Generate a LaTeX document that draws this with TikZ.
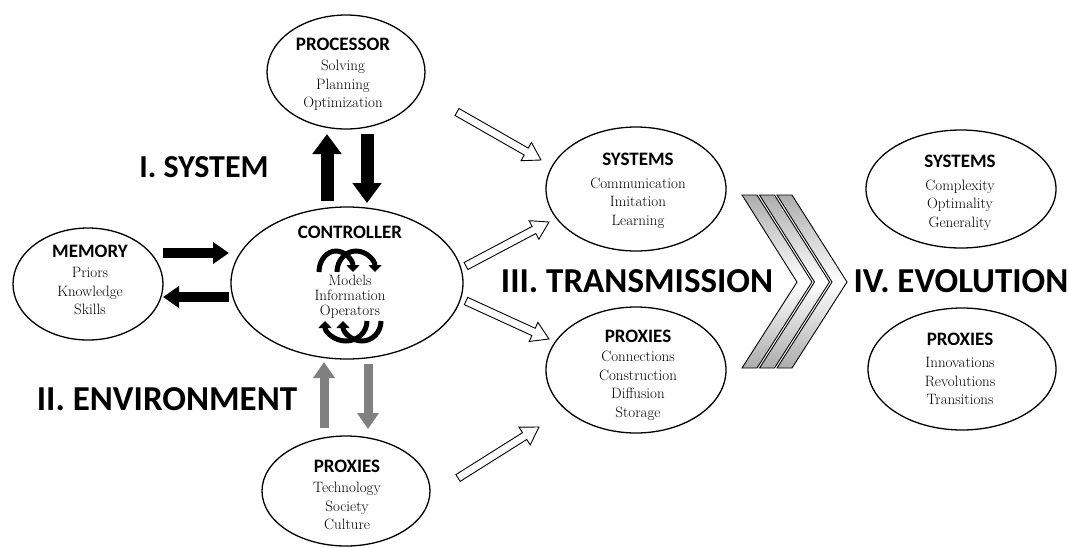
\documentclass[tikz,border=0pt]{standalone}
\usepackage{fontspec}
\newfontfamily\headfont{Carlito}
\usetikzlibrary{arrows.meta,calc,shapes.geometric}
\newcommand{\hdf}{\fontsize{19}{21}\selectfont\headfont\bfseries}
\newcommand{\hollowarr}[2]{%
  \coordinate (hb) at ($(#2)!17pt!(#1)$);
  \draw[hollow] ($(#1)!4pt!90:(#2)$) -- ($(hb)!4pt!-90:(#1)$) -- ($(hb)!10.5pt!-90:(#1)$) -- (#2)
     -- ($(hb)!10.5pt!90:(#1)$) -- ($(hb)!4pt!90:(#1)$) -- ($(#1)!4pt!-90:(#2)$) -- cycle;}
\begin{document}
\begin{tikzpicture}[x=1pt,y=-1pt,
  ell/.style={draw, ellipse, line width=1.3pt, inner sep=0pt},
  blk/.style={align=center, font=\fontsize{15}{18.5}\selectfont, inner sep=0pt},
  big/.style={font=\fontsize{35}{40}\selectfont\headfont\bfseries, anchor=base, inner sep=0pt},
  hollow/.style={draw, fill=white, line width=0.9pt, line join=miter},
  blackarr/.style={line width=13pt, -{Triangle[length=20pt,width=28pt]}},
  memarr/.style={line width=10pt, -{Triangle[length=16pt,width=21pt]}},
  grayarr/.style={draw={rgb,255:red,128;green,128;blue,128}, line width=9pt, -{Triangle[length=16pt,width=21pt]}},
  glyph/.style={line width=5pt, -{Triangle[length=7pt,width=13pt]}},
  chev/.style={top color=gray!65, bottom color=gray!65, middle color=white, draw=black, line width=0.9pt}
]
\useasboundingbox (0,0) rectangle (1069,547);

% ellipses
\node[ell, minimum width=158pt, minimum height=114pt] (proc) at (346,72) {};
\node[ell, minimum width=232pt, minimum height=152pt] (ctrl) at (347,283) {};
\node[ell, minimum width=150pt, minimum height=112pt] (mem) at (88,284) {};
\node[ell, minimum width=168pt, minimum height=110pt] (envp) at (346,491) {};
\node[ell, minimum width=180pt, minimum height=124pt] (sysm) at (636,189) {};
\node[ell, minimum width=180pt, minimum height=126pt] (proxm) at (636,370) {};
\node[ell, minimum width=190pt, minimum height=118pt] (sysr) at (961,189) {};
\node[ell, minimum width=188pt, minimum height=122pt] (proxr) at (962,369) {};

% texts
\node[blk] (proct) at (343,74) {{\hdf PROCESSOR}\\[2pt] Solving\\ Planning\\ Optimization};
\node[blk] (memt) at (90,280) {{\hdf MEMORY}\\[2pt] Priors\\ Knowledge\\ Skills};
\node[blk] (envt) at (347,495) {{\hdf PROXIES}\\[2pt] Technology\\ Society\\ Culture};
\node[blk] (sysmt) at (638,191) {{\hdf SYSTEMS}\\[4pt] Communication\\ Imitation\\ Learning};
\node[blk] (proxmt) at (638,375) {{\hdf PROXIES}\\[1pt] Connections\\ Construction\\ Diffusion\\ Storage};
\node[blk] (sysrt) at (960,193) {{\hdf SYSTEMS}\\[4pt] Complexity\\ Optimality\\ Generality};
\node[blk] (proxrt) at (960,369) {{\hdf PROXIES}\\[4pt] Innovations\\ Revolutions\\ Transitions};
\node[inner sep=0pt, font=\hdf] (ctrlh) at (350,232) {CONTROLLER};
\node[blk, font=\fontsize{15}{15}\selectfont] (ctrlt) at (350,297) {Models\\ Information\\ Operators};

% controller glyphs
\draw[glyph] (319,272) arc[start angle=180, end angle=360, x radius=17, y radius=21];
\draw[glyph] (337,272) arc[start angle=180, end angle=360, x radius=19, y radius=21];
\draw[glyph] (367,321) arc[start angle=0, end angle=180, x radius=21, y radius=20];
\draw[glyph] (381,321) arc[start angle=0, end angle=180, x radius=19, y radius=20];

% big labels
\node[big, font=\fontsize{32}{36}\selectfont\headfont\bfseries] (lab1) at (204,177) {I. SYSTEM};
\node[big] (lab2) at (167,410) {II. ENVIRONMENT};
\node[big] (lab3) at (637,292) {III. TRANSMISSION};
\node[big] (lab4) at (961,292) {IV. EVOLUTION};

% black arrows
\coordinate (u1) at (327,201); \coordinate (u2) at (327,134);
\coordinate (d1) at (367,134); \coordinate (d2) at (367,203);
\draw[blackarr] (u1) -- (u2);
\draw[blackarr] (d1) -- (d2);
\coordinate (m1) at (163,253); \coordinate (m2) at (229,253);
\coordinate (m3) at (229,297); \coordinate (m4) at (163,297);
\draw[memarr] (m1) -- (m2);
\draw[memarr] (m3) -- (m4);
% gray arrows
\coordinate (g1) at (324,428); \coordinate (g2) at (324,362);
\coordinate (g3) at (368,364); \coordinate (g4) at (368,429);
\draw[grayarr] (g1) -- (g2);
\draw[grayarr] (g3) -- (g4);

% hollow arrows
\coordinate (h1a) at (457,112); \coordinate (h1b) at (541,160);
\coordinate (h2a) at (466,266); \coordinate (h2b) at (549,222);
\coordinate (h3a) at (466,301); \coordinate (h3b) at (549,339);
\coordinate (h4a) at (458,478); \coordinate (h4b) at (539,427);
\hollowarr{h1a}{h1b}
\hollowarr{h2a}{h2b}
\hollowarr{h3a}{h3b}
\hollowarr{h4a}{h4b}

% chevrons
\foreach \k in {0,1,2} {
  \pgfmathsetmacro{\xo}{742+17.5*\k}
  \shade[chev] (\xo,195) -- (\xo+15,195) -- (\xo+70,282) -- (\xo+15,368) -- (\xo,368) -- (\xo+55,282) -- cycle;
}
\end{tikzpicture}
\end{document}
